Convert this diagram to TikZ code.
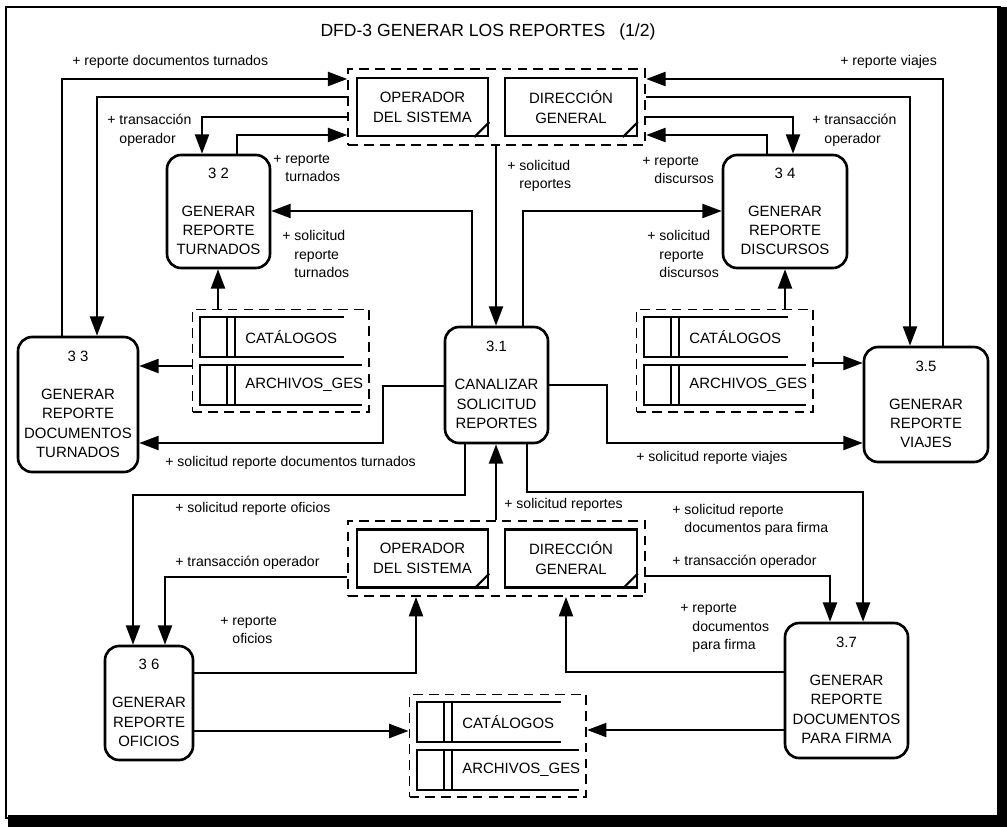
\documentclass[tikz,border=0pt]{standalone}
\usepackage{fontspec}
\setmainfont{Liberation Sans}
\usetikzlibrary{arrows.meta,fit}

\tikzstyle{diagrama}=[x=0.02cm,y=-0.02cm]
\tikzstyle{proceso}=[draw,line width=1.5pt,rounded corners=8pt,align=center,inner sep=0pt,font=\fontsize{8.5}{11}\selectfont]
\tikzstyle{entidad}=[draw,line width=1.2pt,minimum width=2.63cm,minimum height=1.16cm,align=center,inner sep=0pt,font=\fontsize{8.5}{11.4}\selectfont]
\tikzstyle{grupo}=[draw,line width=1.1pt,dash pattern=on 5.5pt off 3.5pt,inner sep=0.15cm]
\tikzstyle{fila}=[inner sep=0pt,minimum height=0.78cm,anchor=north west]
\tikzstyle{linea}=[line width=1.1pt]
\tikzstyle{flujo}=[line width=1.15pt,-{Triangle[length=11pt,width=8pt]}]
\tikzstyle{etiq}=[anchor=west,inner sep=0pt,align=left,font=\fontsize{8}{10.6}\selectfont]

% almacen de datos doble: #1 nombre, #2,#3 esquina superior izquierda
\newcommand{\almacen}[3]{
  \node[fila,minimum width=2.86cm] (#1c) at (#2,#3) {};
  \node[fila,minimum width=3.22cm] (#1a) at (#2,#3+48) {};
  \foreach \f in {#1c,#1a} {
    \draw[linea] (\f.north east) -- (\f.north west) -- (\f.south west) -- (\f.south east);
    \draw[linea] ([xshift=0.54cm]\f.north west) -- ([xshift=0.54cm]\f.south west);
    \draw[linea] ([xshift=0.70cm]\f.north west) -- ([xshift=0.70cm]\f.south west);
  }
  \node[etiq,font=\fontsize{8.5}{11}\selectfont] (#1ct) at ([xshift=0.9cm]#1c.west) {CATÁLOGOS};
  \node[etiq,font=\fontsize{8.5}{11}\selectfont] (#1at) at ([xshift=0.9cm]#1a.west) {ARCHIVOS\_GES};
  \node[grupo,fit=(#1c)(#1a)] (#1) {};
}

% esquina de entidad repetida
\newcommand{\esquina}[1]{
  \draw[line width=1.2pt] ([xshift=-0.3cm]#1.south east) -- ([yshift=0.3cm]#1.south east);
}

\begin{document}
\begin{tikzpicture}[style=diagrama]
\fill[white] (0,0) rectangle (1007,827);
\draw[line width=1.6pt] (6,7) rectangle (1000,818);
\fill (997,7) rectangle (1007,827);
\fill (8,815) rectangle (1007,827);

\node[font=\fontsize{10}{12}\selectfont] (titulo) at (488,32) {DFD-3 GENERAR LOS REPORTES\hspace{8pt}(1/2)};

% procesos
\node[proceso,minimum width=2.06cm,minimum height=2.32cm] (p31) at (496.5,385) {3.1\\[10.5pt]CANALIZAR\\SOLICITUD\\REPORTES};
\node[proceso,minimum width=2.06cm,minimum height=2.26cm] (p32) at (218.5,211.5) {3 2\\[10.5pt]GENERAR\\REPORTE\\TURNADOS};
\node[proceso,minimum width=2.40cm,minimum height=2.70cm] (p33) at (78,404.5) {3 3\\[10.5pt]GENERAR\\REPORTE\\DOCUMENTOS\\TURNADOS};
\node[proceso,minimum width=2.48cm,minimum height=2.26cm] (p34) at (785,211.5) {3 4\\[10.5pt]GENERAR\\REPORTE\\DISCURSOS};
\node[proceso,minimum width=2.48cm,minimum height=2.30cm] (p35) at (926,404.5) {3.5\\[10.5pt]GENERAR\\REPORTE\\VIAJES};
\node[proceso,minimum width=1.76cm,minimum height=2.28cm] (p36) at (149,703) {3 6\\[10.5pt]GENERAR\\REPORTE\\OFICIOS};
\node[proceso,minimum width=2.46cm,minimum height=2.70cm] (p37) at (846.5,690.5) {3.7\\[10.5pt]GENERAR\\REPORTE\\DOCUMENTOS\\PARA FIRMA};

% entidades externas
\node[entidad] (ops1) at (422.5,107) {OPERADOR\\DEL SISTEMA};
\node[entidad] (dir1) at (571,107) {DIRECCIÓN\\GENERAL};
\node[grupo,fit=(ops1)(dir1)] (gsup) {};
\node[entidad] (ops2) at (422.5,558.5) {OPERADOR\\DEL SISTEMA};
\node[entidad] (dir2) at (571,558.5) {DIRECCIÓN\\GENERAL};
\node[grupo,fit=(ops2)(dir2)] (ginf) {};
\esquina{ops1} \esquina{dir1} \esquina{ops2} \esquina{dir2}

% almacenes
\almacen{aizq}{200}{317}
\almacen{ader}{644}{317}
\almacen{abaj}{417}{702}

% flujos superiores izquierda
\draw[flujo] (62,0 |- p33.north) |- (gsup.west |- 0,79);
\draw[flujo] (gsup.west |- 0,97) -| (97,0 |- p33.north);
\draw[flujo] (gsup.west |- 0,117) -| (202,0 |- p32.north);
\draw[flujo] (237,0 |- p32.north) |- (gsup.west |- 0,135);
\draw[flujo] (472,0 |- p31.north) |- (p32.east |- 0,211);
\draw[flujo] (218,0 |- aizq.north) -- (218,0 |- p32.south);
\draw[flujo] (aizq.west |- 0,366) -- (p33.east |- 0,366);
\draw[flujo] (p31.west |- 0,386) -| (383,443) -- (p33.east |- 0,443);
\draw[flujo] (496,0 |- gsup.south) -- (496,0 |- p31.north);

% flujos superiores derecha
\draw[flujo] (523,0 |- p31.north) |- (p34.west |- 0,211);
\draw[flujo] (943,0 |- p35.north) |- (gsup.east |- 0,79);
\draw[flujo] (gsup.east |- 0,97) -| (910,0 |- p35.north);
\draw[flujo] (gsup.east |- 0,117) -| (793,0 |- p34.north);
\draw[flujo] (767,0 |- p34.north) |- (gsup.east |- 0,135);
\draw[flujo] (785,0 |- ader.north) -- (785,0 |- p34.south);
\draw[flujo] (ader.east |- 0,363) -- (p35.west |- 0,363);
\draw[flujo] (p31.east |- 0,385) -| (607,443) -- (p35.west |- 0,443);

% flujos inferiores
\draw[flujo] (465,0 |- p31.south) |- (133,495) -- (133,0 |- p36.north);
\draw[flujo] (496,0 |- ginf.north) -- (496,0 |- p31.south);
\draw[flujo] (527,0 |- p31.south) |- (863,492) -- (863,0 |- p37.north);
\draw[flujo] (ginf.west |- 0,577) -| (165,0 |- p36.north);
\draw[flujo] (ginf.east |- 0,576) -| (830,0 |- p37.north);
\draw[flujo] (p36.east |- 0,673) -| (416,0 |- ginf.south);
\draw[flujo] (p37.west |- 0,672) -| (566,0 |- ginf.south);
\draw[flujo] (p36.east |- 0,731) -- (abaj.west |- 0,731);
\draw[flujo] (p37.west |- 0,730) -- (abaj.east |- 0,730);

% etiquetas
\node[etiq] (e1) at (72,62) {+ reporte documentos turnados};
\node[etiq] (e2) at (107,130) {+ transacción\\\phantom{+ }operador};
\node[etiq] (e3) at (273,168) {+ reporte\\\phantom{+ }turnados};
\node[etiq] (e4) at (282,254) {+ solicitud\\\phantom{+ }reporte\\\phantom{+ }turnados};
\node[etiq] (e5) at (507,176) {+ solicitud\\\phantom{+ }reportes};
\node[etiq] (e6) at (642,170) {+ reporte\\\phantom{+ }discursos};
\node[etiq] (e7) at (647,254) {+ solicitud\\\phantom{+ }reporte\\\phantom{+ }discursos};
\node[etiq] (e8) at (812,130) {+ transacción\\\phantom{+ }operador};
\node[etiq] (e9) at (840,62) {+ reporte viajes};
\node[etiq] (e10) at (165,463) {+ solicitud reporte documentos turnados};
\node[etiq] (e11) at (636,458) {+ solicitud reporte viajes};
\node[etiq] (e12) at (175,509) {+ solicitud reporte oficios};
\node[etiq] (e13) at (504,505) {+ solicitud reportes};
\node[etiq] (e14) at (672,520) {+ solicitud reporte\\\phantom{+ }documentos para firma};
\node[etiq] (e15) at (175,563) {+ transacción operador};
\node[etiq] (e16) at (672,562) {+ transacción operador};
\node[etiq] (e17) at (220,630) {+ reporte\\\phantom{+ }oficios};
\node[etiq] (e18) at (680,628) {+ reporte\\\phantom{+ }documentos\\\phantom{+ }para firma};
\end{tikzpicture}
\end{document}
